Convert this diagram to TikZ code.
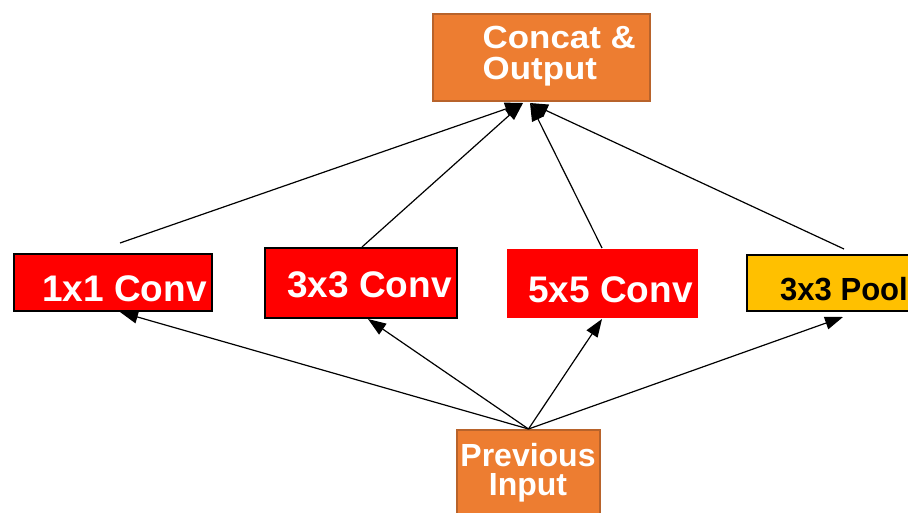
\documentclass[tikz,border=0pt]{standalone}
\usepackage{fontspec}
\setmainfont{Liberation Sans}
\usetikzlibrary{arrows.meta}
\definecolor{boxorange}{HTML}{ED7D31}
\definecolor{orangeedge}{HTML}{B8632B}
\definecolor{convred}{HTML}{FF0000}
\definecolor{poolgold}{HTML}{FFC000}
\begin{document}
\begin{tikzpicture}[x=1pt,y=-1pt,
  box/.style={rectangle, inner sep=0pt, line width=2pt},
  orangebox/.style={box, fill=boxorange, draw=orangeedge},
  convbox/.style={box, fill=convred, draw=black},
  bigtext/.style={inner sep=0pt, text=white, font=\bfseries\fontsize{37}{37}\selectfont},
  midtext/.style={inner sep=0pt, text=white, font=\bfseries\fontsize{32}{32}\selectfont},
  link/.style={line width=1.2pt, -{Triangle[length=18pt,width=13pt]}},
]
\useasboundingbox (0,0) rectangle (908,513);

% boxes
\node[orangebox, minimum width=217pt, minimum height=87pt] (concat) at (541.5,57.5) {};
\node[convbox, minimum width=198pt, minimum height=57pt] (c1) at (113,282.5) {};
\node[convbox, minimum width=192pt, minimum height=70pt] (c3) at (361,283) {};
\node[box, fill=convred, minimum width=191pt, minimum height=69pt] (c5) at (602.5,283.5) {};
\node[box, fill=poolgold, draw=black, minimum width=198pt, minimum height=56pt] (pool) at (846,283) {};
\node[orangebox, minimum width=143pt, minimum height=100pt] (prev) at (528.5,480) {};

% labels
\node[midtext, anchor=base west] (concatA) at (482.5,49) {\scalebox{1.09}[1]{Concat \&}};
\node[midtext, anchor=base west] (concatB) at (482.5,80) {\scalebox{1.09}[1]{Output}};
\node[bigtext, anchor=base west] (t1) at (42,301.5) {1x1 Conv};
\node[bigtext, anchor=base west] (t3) at (287,298) {3x3 Conv};
\node[bigtext, anchor=base west] (t5) at (528,302) {5x5 Conv};
\node[midtext, anchor=base west, text=black] (tp) at (780,300.5) {\scalebox{0.97}[1]{3x3 Pool}};
\node[midtext, anchor=north, align=center, font=\bfseries\fontsize{32}{28.5}\selectfont]
  (prevtext) at (528,443.5) {Previous\\Input};

% connector end points
\coordinate (inL) at (523,103);
\coordinate (inR) at (530,103);
\coordinate (u1) at (120,243);
\coordinate (u3) at (362,247);
\coordinate (u5) at (602,248);
\coordinate (u4) at (844,249);
\coordinate (d1) at (120,312);
\coordinate (d3) at (368,319);
\coordinate (d5) at (602,319);
\coordinate (d4) at (843,317);

% branch outputs into the concatenation
\draw[link] (u1) -- (inL);
\draw[link] (u3) -- (inL);
\draw[link] (u5) -- (inR);
\draw[link] (u4) -- (inR);

% previous input feeding every branch
\draw[link] (prev.north) -- (d1);
\draw[link] (prev.north) -- (d3);
\draw[link] (prev.north) -- (d5);
\draw[link] (prev.north) -- (d4);
\end{tikzpicture}
\end{document}
